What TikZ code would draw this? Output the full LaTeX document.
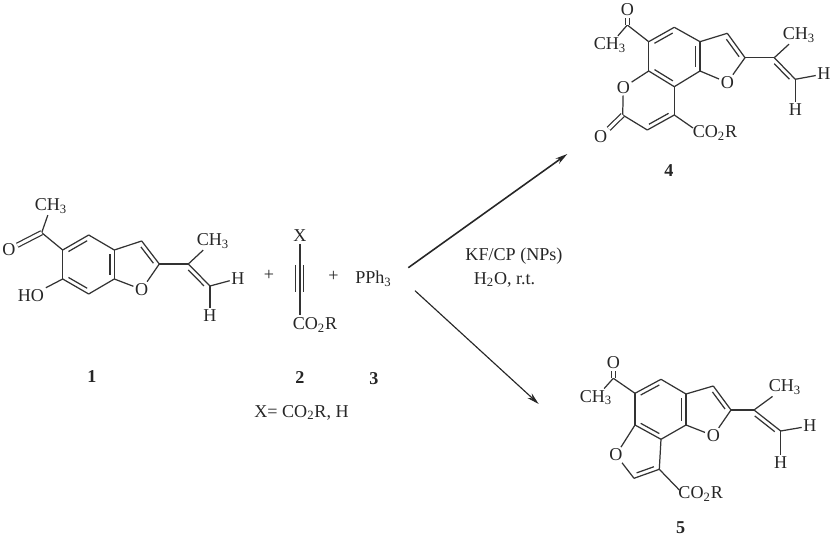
\documentclass[tikz,border=0pt]{standalone}
\usepackage{fontspec}
\setmainfont{Liberation Serif}
\usetikzlibrary{calc,arrows.meta}
\tikzset{
  bond/.style={line width=0.7pt, black!80},
  kbond/.style={bond, double, double distance=1.7pt},
  atom/.style={inner sep=0.8pt, font=\fontsize{10.3}{12}\selectfont, text=black!85},
  cpd/.style={inner sep=0pt, font=\fontsize{10.3}{12}\selectfont\bfseries, text=black!85},
  rxn/.style={-{Stealth[length=7pt,width=3.6pt]}, line width=0.65pt, black!85}
}
% second line of a double bond lies to the left of #1 -> #2
\newcommand{\dblbond}[2]{
  \draw[bond] (#1) -- (#2);
  \draw[bond, shorten <=2.4pt, shorten >=2.4pt] ($(#1)!2.4pt!90:(#2)$) -- ($(#2)!2.4pt!-90:(#1)$);
}
\begin{document}
\begin{tikzpicture}[x=0.02cm, y=-0.02cm]
  \useasboundingbox (0,0) rectangle (833,536);

  % compound 1
  \foreach \n/\x/\y in {aCO/41.7/232.7, aC5/62.7/250, aC4/88.7/235, aC3a/114.3/250, aC3/141.7/241,
      aC2/159.3/264, aC7a/114.3/279, aC7/88.7/294, aC6/62.7/279, aCa/188.3/264, aCb/210/286}
    \coordinate (\n) at (\x,\y);
  \node[atom] (aMe) at (51,206) {CH\textsubscript{3}};
  \node[atom] (aOk) at (9,249.5) {O};
  \node[atom] (aOH) at (31,295.5) {HO};
  \node[atom] (aO1) at (141.7,289.5) {O};
  \node[atom] (aMe2) at (213,241) {CH\textsubscript{3}};
  \node[atom] (aH1) at (238,278.5) {H};
  \node[atom] (aH2) at (210,316) {H};
  \foreach \p/\q in {aCO/aMe, aCO/aC5, aC4/aC3a, aC3a/aC3, aC2/aO1, aO1/aC7a, aC7/aC7a, aC5/aC6,
      aC6/aOH, aC2/aCa, aCa/aMe2, aCb/aH1, aCb/aH2}
    \draw[bond] (\p) -- (\q);
  \dblbond{aC4}{aC5} \dblbond{aC6}{aC7} \dblbond{aC7a}{aC3a} \dblbond{aC2}{aC3}
  \dblbond{aCb}{aCa}
  \draw[kbond] (aCO) -- (aOk);
  \node[cpd] (aNum) at (92,377) {1};

  % compound 2 and 3
  \node[atom] (bX) at (300,236) {X};
  \node[atom] (bEst) at (315,325) {CO\textsubscript{2}R};
  \coordinate (bTop) at (300,244);
  \coordinate (bBot) at (300,315);
  \coordinate (bL1) at (295.5,265);
  \coordinate (bL2) at (295.5,292);
  \coordinate (bR1) at (303.7,265);
  \coordinate (bR2) at (303.7,292);
  \draw[bond] (bTop) -- (bBot);
  \draw[bond] (bL1) -- (bL2);
  \draw[bond] (bR1) -- (bR2);
  \node[atom] (pl1) at (269,275) {+};
  \node[atom] (pl2) at (333.5,276.5) {+};
  \node[atom] (cPh) at (373.5,278.5) {PPh\textsubscript{3}};
  \node[cpd] (bNum) at (300,377.5) {2};
  \node[cpd] (cNum) at (374,379) {3};
  \node[atom] (xDef) at (301.5,412.5) {X= CO\textsubscript{2}R, H};

  % arrows
  \coordinate (rA) at (408.3,267.7);
  \coordinate (rB) at (567.3,154);
  \coordinate (rC) at (415,290.7);
  \coordinate (rD) at (538.7,404);
  \draw[rxn, line width=0.9pt] (rA) -- (rB);
  \draw[rxn] (rC) -- (rD);
  \node[atom] (cond1) at (514,256) {KF/CP (NPs)};
  \node[atom] (cond2) at (504.5,279.5) {H\textsubscript{2}O, r.t.};

  % compound 4
  \foreach \n/\x/\y in {dCO/627.3/25, dC5/648.7/41.7, dC4/674.3/27.3, dC3a/700/41.7, dC3/727.3/33.3,
      dC2/745/57.7, dC7a/700/71, dC7/674.3/86.7, dC6/648.7/71, dCl/622.7/115, dCH/647.3/130,
      dC8/674.3/115, dEe/693/128, dCa/774.3/57.7, dCb/795.3/79.3}
    \coordinate (\n) at (\x,\y);
  \node[atom] (dOk) at (627.3,10) {O};
  \node[atom] (dMe) at (610,45) {CH\textsubscript{3}};
  \node[atom] (dO1) at (727.3,82.5) {O};
  \node[atom] (dOr) at (623.3,87.5) {O};
  \node[atom] (dOl) at (600.7,136.7) {O};
  \node[atom] (dEst) at (715,132.7) {CO\textsubscript{2}R};
  \node[atom] (dMe2) at (799,35) {CH\textsubscript{3}};
  \node[atom] (dH1) at (824,74) {H};
  \node[atom] (dH2) at (795.3,109.3) {H};
  \foreach \p/\q in {dCO/dMe, dCO/dC5, dC4/dC3a, dC3a/dC3, dC2/dO1, dO1/dC7a, dC7/dC7a, dC5/dC6,
      dC6/dOr, dOr/dCl, dC7/dC8, dC8/dEe, dC2/dCa, dCa/dMe2, dCb/dH1, dCb/dH2, dCl/dCH}
    \draw[bond] (\p) -- (\q);
  \dblbond{dC4}{dC5} \dblbond{dC6}{dC7} \dblbond{dC7a}{dC3a} \dblbond{dC2}{dC3}
  \dblbond{dCH}{dC8} \dblbond{dCb}{dCa}
  \draw[kbond] (dCO) -- (dOk);
  \draw[kbond] (dCl) -- (dOl);
  \node[cpd] (dNum) at (669,170.7) {4};

  % compound 5
  \foreach \n/\x/\y in {eCO/613.3/378.3, eC5/635/393.3, eC4/661/379.3, eC3a/686/394, eC3/713.3/386,
      eC2/731/410, eC7a/686/425, eC7/661/439.3, eC6/635/425, eCH/634/478.3, eC8/659.3/469.3,
      eEe/679.3/490, eCa/754/410, eCb/780.7/431}
    \coordinate (\n) at (\x,\y);
  \node[atom] (eOk) at (613.3,362.7) {O};
  \node[atom] (eMe) at (596,397.7) {CH\textsubscript{3}};
  \node[atom] (eO1) at (713.3,435.7) {O};
  \node[atom] (eOr) at (616,455) {O};
  \node[atom] (eEst) at (700.7,494) {CO\textsubscript{2}R};
  \node[atom] (eMe2) at (785,387.3) {CH\textsubscript{3}};
  \node[atom] (eH1) at (810,426) {H};
  \node[atom] (eH2) at (780.7,462.7) {H};
  \foreach \p/\q in {eCO/eMe, eCO/eC5, eC4/eC3a, eC3a/eC3, eC2/eO1, eO1/eC7a, eC7/eC7a, eC5/eC6,
      eC6/eOr, eOr/eCH, eC7/eC8, eC8/eEe, eC2/eCa, eCa/eMe2, eCb/eH1, eCb/eH2}
    \draw[bond] (\p) -- (\q);
  \dblbond{eC4}{eC5} \dblbond{eC6}{eC7} \dblbond{eC7a}{eC3a} \dblbond{eC2}{eC3}
  \dblbond{eCH}{eC8} \dblbond{eCb}{eCa}
  \draw[kbond] (eCO) -- (eOk);
  \node[cpd] (eNum) at (680.7,527.3) {5};
\end{tikzpicture}
\end{document}
